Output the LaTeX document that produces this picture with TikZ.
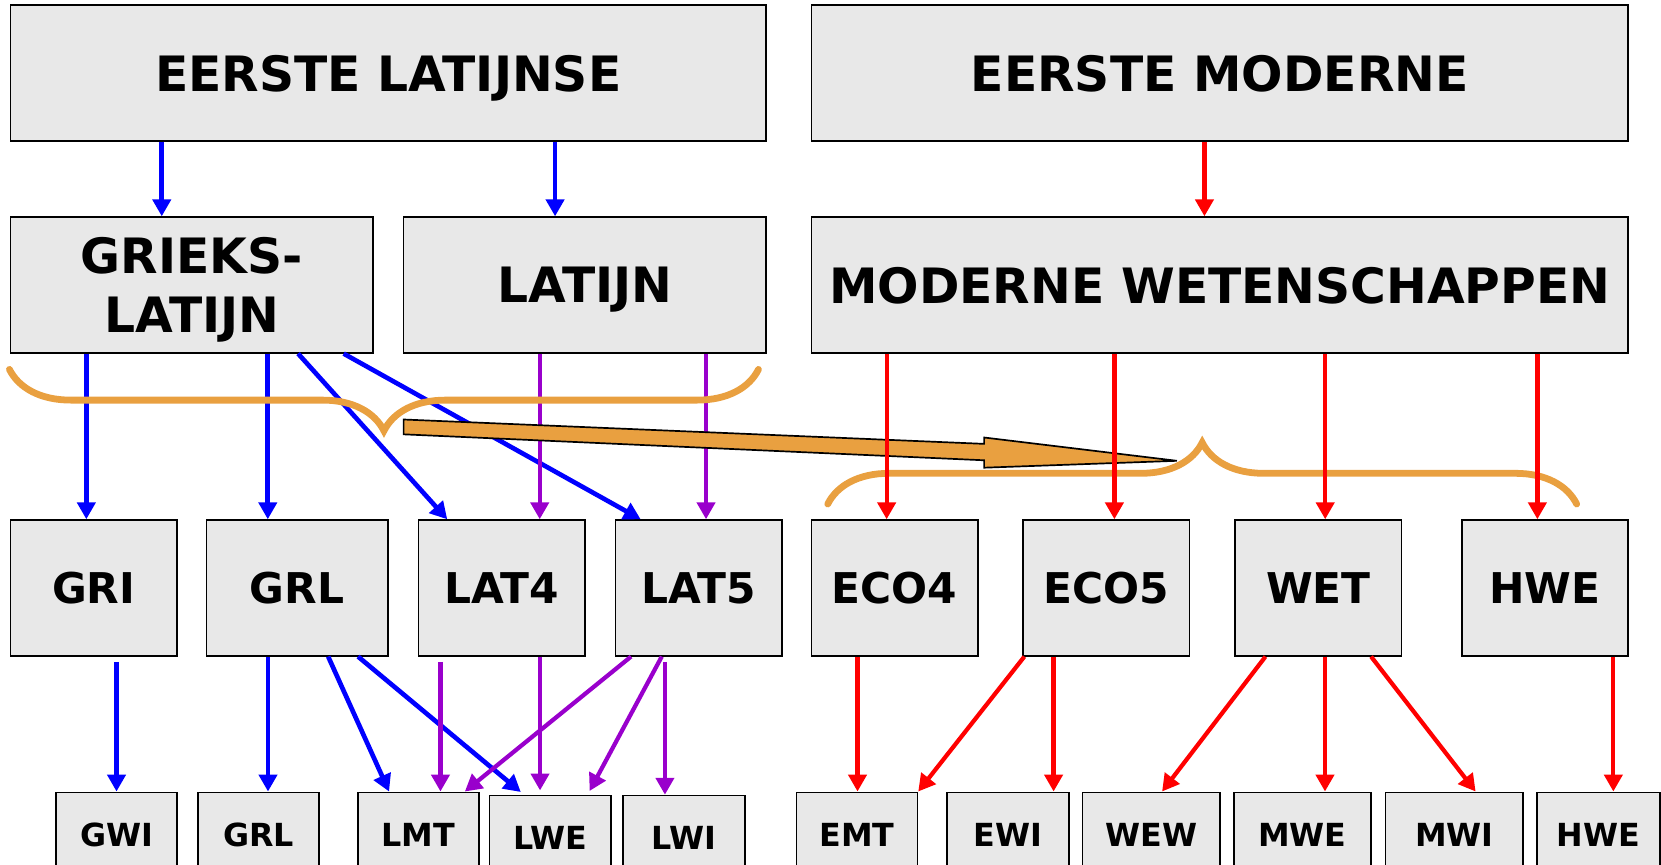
\documentclass[tikz,border=0pt]{standalone}
\usepackage{fontspec}
\setmainfont{DejaVu Sans}
\usetikzlibrary{arrows.meta}
\usetikzlibrary{decorations.pathreplacing}
\definecolor{vakgrijs}{RGB}{232,232,232}
\definecolor{oranje}{RGB}{233,160,64}
\definecolor{latpaars}{RGB}{153,0,204}
\tikzset{>={Triangle[length=8pt,width=8.5pt]}}
\tikzset{
  vak/.style={draw,fill=vakgrijs,line width=0.8pt,inner sep=0pt,align=center,text depth=0pt},
  groot/.style={font=\fontsize{23}{27.5}\selectfont\bfseries},
  midden/.style={font=\fontsize{20}{24}\selectfont\bfseries},
  klein/.style={font=\fontsize{15}{18}\selectfont\bfseries},
  blauwpijl/.style={->,draw=blue,line width=2.2pt},
  paarspijl/.style={->,draw=latpaars,line width=2pt},
  roodpijl/.style={->,draw=red,line width=2pt},
  accolade/.style={draw=oranje,line width=3.2pt,line cap=round,decorate,decoration={brace,amplitude=29pt}}
}
\def\vak[#1](#2)(#3:#4:#5:#6)#7;%
{
  \node[vak,#1,minimum width={(#5-#3)*0.5pt},minimum height={(#6-#4)*0.5pt}] (#2) at ({(#3+#5)/2},{(#4+#6)/2}) {#7};
}

\begin{document}
\begin{tikzpicture}[x=0.5pt,y=-0.5pt]
  \useasboundingbox (0,0) rectangle (1568,816);
  \clip (0,0) rectangle (1568,816);
  % bovenste rij
  \vak[groot](eerstelat)(10:5:723:133){EERSTE LATIJNSE};
  \vak[groot](eerstemod)(766:5:1537:133){EERSTE MODERNE};
  % tweede rij
  \vak[groot](grlat)(10:205:352:333){GRIEKS-\\LATIJN};
  \vak[groot](lat)(381:205:723:333){LATIJN};
  \vak[groot](modw)(766:205:1537:333){MODERNE WETENSCHAPPEN};
  % derde rij
  \vak[midden](gri)(10:491:167:619){GRI};
  \vak[midden](grl)(195:491:366:619){GRL};
  \vak[midden](lat4)(395:491:552:619){LAT4};
  \vak[midden](lat5)(581:491:738:619){LAT5};
  \vak[midden](eco4)(766:491:923:619){ECO4};
  \vak[midden](eco5)(966:491:1123:619){ECO5};
  \vak[midden](wet)(1166:491:1323:619){WET};
  \vak[midden](hwe)(1380:491:1537:619){HWE};
  % onderste rij
  \vak[klein](gwi)(53:748:167:828){GWI};
  \vak[klein](grlb)(187:748:301:828){GRL};
  \vak[klein](lmt)(338:748:452:828){LMT};
  \vak[klein](lwe)(462:751:577:831){LWE};
  \vak[klein](lwi)(588:751:703:831){LWI};
  \vak[klein](emt)(752:748:866:828){EMT};
  \vak[klein](ewi)(894:748:1009:828){EWI};
  \vak[klein](wew)(1022:748:1152:828){WEW};
  \vak[klein](mwe)(1165:748:1294:828){MWE};
  \vak[klein](mwi)(1308:748:1438:828){MWI};
  \vak[klein](hweb)(1451:748:1567:828){HWE};
  % pijlen latijn
  \draw[blauwpijl] (152.7,0 |- eerstelat.south) -- (152.7,0 |- grlat.north);
  \draw[blauwpijl] (524,0 |- eerstelat.south) -- (524,0 |- lat.north);
  \foreach \x/\b in {81.5/gri,252.8/grl} { \draw[blauwpijl] (\x,0 |- grlat.south) -- (\x,0 |- \b.north); };
  \draw[blauwpijl] (281.4,0 |- grlat.south) -- (422.2,0 |- lat4.north);
  \draw[blauwpijl] (324.4,0 |- grlat.south) -- (604.8,0 |- lat5.north);
  \foreach \x/\b in {509.5/lat4,666.5/lat5} { \draw[paarspijl] (\x,0 |- lat.south) -- (\x,0 |- \b.north); };
  \draw[blauwpijl,shorten <=2.5pt] (110,0 |- gri.south) -- (110,0 |- gwi.north);
  \draw[blauwpijl] (253,0 |- grl.south) -- (253,0 |- grlb.north);
  \draw[blauwpijl] (309.8,0 |- grl.south) -- (367.3,0 |- lmt.north);
  \draw[blauwpijl,shorten >=2pt] (338,0 |- grl.south) -- (494.7,0 |- lwe.north);
  \draw[paarspijl,shorten <=2.5pt] (415.8,0 |- lat4.south) -- (415.8,0 |- lmt.north);
  \draw[paarspijl,shorten >=2pt] (509.8,0 |- lat4.south) -- (509.8,0 |- lwe.north);
  \draw[paarspijl] (595.7,0 |- lat5.south) -- (438.8,0 |- lmt.north);
  \draw[paarspijl,shorten >=2pt] (624.7,0 |- lat5.south) -- (554.7,0 |- lwe.north);
  \draw[paarspijl,shorten <=2.5pt] (627.7,0 |- lat5.south) -- (627.7,0 |- lwi.north);
  % accolade links
  \draw[accolade] (716,348.7) -- (8.9,348.7);
  % grote pijl
  \draw[fill=oranje,line width=0.8pt] (381,396) -- (929,419) -- (929,413) -- (1111,435) -- (929,441.5) -- (929,434.5) -- (381,410) -- cycle;
  % accolade rechts
  \draw[accolade] (781.4,475.8) -- (1488.4,475.8);
  % pijlen modern
  \draw[roodpijl] (1137,0 |- eerstemod.south) -- (1137,0 |- modw.north);
  \foreach \x/\b in {837/eco4,1052/eco5,1251/wet,1451.3/hwe} { \draw[roodpijl] (\x,0 |- modw.south) -- (\x,0 |- \b.north); };
  \draw[roodpijl] (809.5,0 |- eco4.south) -- (809.5,0 |- emt.north);
  \draw[roodpijl] (967,0 |- eco5.south) -- (emt.north east);
  \draw[roodpijl] (994.6,0 |- eco5.south) -- (994.6,0 |- ewi.north);
  \draw[roodpijl] (1194.6,0 |- wet.south) -- (1097,0 |- wew.north);
  \draw[roodpijl] (1250.8,0 |- wet.south) -- (1250.8,0 |- mwe.north);
  \draw[roodpijl] (1294.3,0 |- wet.south) -- (1393,0 |- mwi.north);
  \draw[roodpijl] (1523,0 |- hwe.south) -- (1523,0 |- hweb.north);
\end{tikzpicture}
\end{document}
